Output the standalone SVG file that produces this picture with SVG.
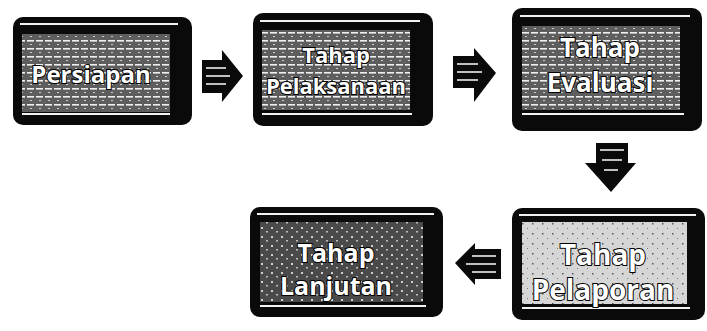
<svg xmlns="http://www.w3.org/2000/svg" width="707" height="331" viewBox="0 0 707 331">
  <defs>
    <pattern id="lines" width="9" height="8" patternUnits="userSpaceOnUse">
      <rect width="9" height="8" fill="#5e5e5e"/>
      <rect y="0" width="7" height="1.6" fill="#f0f0f0"/>
      <rect x="3" y="4" width="2" height="1" fill="#d0d0d0"/>
    </pattern>
    <pattern id="dark" width="10" height="9" patternUnits="userSpaceOnUse">
      <rect width="10" height="9" fill="#4a4a4a"/>
      <rect x="1" y="2" width="2" height="2" fill="#cfcfcf"/>
      <rect x="6" y="6" width="2" height="1.5" fill="#bdbdbd"/>
    </pattern>
    <pattern id="light" width="10" height="10" patternUnits="userSpaceOnUse">
      <rect width="10" height="10" fill="#d6d6d6"/>
      <rect x="2" y="3" width="1.5" height="1.5" fill="#555"/>
      <rect x="7" y="8" width="1" height="1" fill="#777"/>
    </pattern>
  </defs>
  <style>
    .frame { fill: #0a0a0a; }
    .hl { stroke: #f2f2f2; stroke-width: 2; fill: none; }
    .lbl { font-family: "Open Sans", "DejaVu Sans", sans-serif; font-weight: bold; fill: #ffffff; stroke: #000; stroke-width: 2; paint-order: stroke; text-anchor: middle; }
    .arrow { fill: #0a0a0a; }
    .aline { stroke: #eeeeee; stroke-width: 1.6; }
  </style>

  <g id="node-persiapan">
    <rect class="frame" x="13" y="17" width="179" height="108" rx="10"/>
    <line class="hl" x1="20" y1="24" x2="178" y2="24"/>
    <rect x="22" y="34" width="148" height="78" fill="url(#lines)"/>
    <line class="hl" x1="22" y1="114" x2="170" y2="114"/>
    <text class="lbl" x="91" y="83" font-size="24">Persiapan</text>
  </g>

  <g id="node-pelaksanaan">
    <rect class="frame" x="253" y="13" width="180" height="113" rx="10"/>
    <line class="hl" x1="260" y1="21" x2="420" y2="21"/>
    <rect x="262" y="30" width="148" height="80" fill="url(#lines)"/>
    <line class="hl" x1="262" y1="114" x2="412" y2="114"/>
    <text class="lbl" x="336" y="63" font-size="22">Tahap</text>
    <text class="lbl" x="336" y="94" font-size="22">Pelaksanaan</text>
  </g>

  <g id="node-evaluasi">
    <rect class="frame" x="512" y="8" width="190" height="123" rx="10"/>
    <line class="hl" x1="520" y1="16" x2="690" y2="16"/>
    <rect x="522" y="26" width="158" height="84" fill="url(#lines)"/>
    <line class="hl" x1="522" y1="114" x2="684" y2="114"/>
    <text class="lbl" x="600" y="57" font-size="26">Tahap</text>
    <text class="lbl" x="600" y="92" font-size="26">Evaluasi</text>
  </g>

  <g id="node-pelaporan">
    <rect class="frame" x="512" y="208" width="193" height="112" rx="10"/>
    <line class="hl" x1="519" y1="215" x2="696" y2="215"/>
    <rect x="522" y="222" width="165" height="82" fill="url(#light)"/>
    <line class="hl" x1="522" y1="308" x2="690" y2="308"/>
    <text class="lbl" x="603" y="265" font-size="28" stroke-width="4">Tahap</text>
    <text class="lbl" x="603" y="300" font-size="28" stroke-width="4">Pelaporan</text>
  </g>

  <g id="node-lanjutan">
    <rect class="frame" x="250" y="207" width="193" height="110" rx="10"/>
    <line class="hl" x1="257" y1="214" x2="434" y2="214"/>
    <rect x="260" y="222" width="163" height="80" fill="url(#dark)"/>
    <line class="hl" x1="260" y1="306" x2="426" y2="306"/>
    <text class="lbl" x="336" y="262" font-size="25">Tahap</text>
    <text class="lbl" x="336" y="295" font-size="25">Lanjutan</text>
  </g>

  <g id="connectors">
    <g id="arrow-1">
      <path class="arrow" d="M202,60 H222 V50 L243,76 L222,102 V93 H202 Z"/>
      <line class="aline" x1="206" y1="68" x2="226" y2="68"/>
      <line class="aline" x1="206" y1="76" x2="230" y2="76"/>
      <line class="aline" x1="206" y1="84" x2="226" y2="84"/>
    </g>
    <g id="arrow-2">
      <path class="arrow" d="M453,56 H474 V48 L496,73 L474,102 V88 H453 Z"/>
      <line class="aline" x1="457" y1="64" x2="478" y2="64"/>
      <line class="aline" x1="457" y1="72" x2="482" y2="72"/>
      <line class="aline" x1="457" y1="80" x2="478" y2="80"/>
    </g>
    <g id="arrow-3">
      <path class="arrow" d="M596,143 H628 V163 H636 L611,192 L585,163 H596 Z"/>
      <line class="aline" x1="600" y1="150" x2="624" y2="150"/>
      <line class="aline" x1="602" y1="160" x2="622" y2="160"/>
      <line class="aline" x1="604" y1="170" x2="618" y2="170"/>
    </g>
    <g id="arrow-4">
      <path class="arrow" d="M455,263 L475,243 V249 H501 V279 H475 V285 Z"/>
      <line class="aline" x1="472" y1="256" x2="496" y2="256"/>
      <line class="aline" x1="466" y1="264" x2="496" y2="264"/>
      <line class="aline" x1="472" y1="272" x2="496" y2="272"/>
    </g>
  </g>
</svg>
